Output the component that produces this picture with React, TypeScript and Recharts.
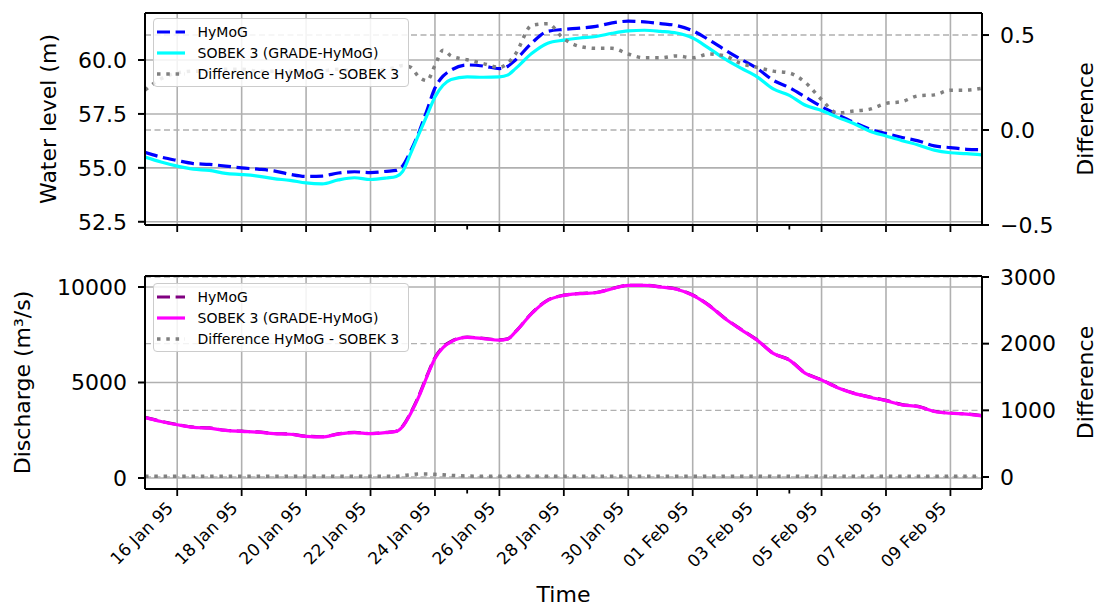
import React from 'react';
import { ComposedChart, Line, XAxis, YAxis, CartesianGrid, Legend, ReferenceLine } from 'recharts';

const FONT = '"DejaVu Sans", Verdana, sans-serif';

// days since 15 Jan 1995 00:00
const days = [
  0, 0.5, 1, 1.5, 2, 2.5, 3, 3.5, 4, 4.5,
  5, 5.5, 6, 6.5, 7, 7.5, 7.8, 8, 8.25, 8.5,
  8.75, 9, 9.25, 9.5, 10, 10.5, 11, 11.25, 11.5, 12,
  12.5, 13, 13.5, 14, 14.5, 15, 15.5, 16, 16.5, 17,
  17.5, 18, 18.5, 19, 19.5, 20, 20.5, 21, 21.5, 22,
  22.5, 23, 23.5, 24, 24.5, 25, 25.5, 25.98,
];

const hymogLevel = [
  55.72, 55.5, 55.34, 55.2, 55.16, 55.08, 55.0, 54.94, 54.86, 54.7,
  54.6, 54.62, 54.76, 54.82, 54.78, 54.84, 54.88, 55.1, 55.8, 56.64,
  57.66, 58.7, 59.25, 59.53, 59.77, 59.72, 59.6, 59.7, 60.0, 60.78,
  61.33, 61.42, 61.48, 61.56, 61.72, 61.8, 61.77, 61.69, 61.6, 61.36,
  60.94, 60.47, 60.03, 59.61, 59.06, 58.72, 58.28, 57.84, 57.47, 57.11,
  56.8, 56.59, 56.41, 56.25, 56.02, 55.94, 55.86, 55.84,
];

const sobekLevel = [
  55.5, 55.27, 55.08, 54.94, 54.88, 54.74, 54.69, 54.62, 54.5, 54.42,
  54.3, 54.26, 54.44, 54.54, 54.46, 54.53, 54.6, 54.84, 55.68, 56.56,
  57.42, 58.28, 58.83, 59.1, 59.22, 59.2, 59.22, 59.3, 59.6, 60.3,
  60.78, 60.92, 61.02, 61.09, 61.24, 61.35, 61.38, 61.33, 61.25, 61.02,
  60.55, 60.05, 59.62, 59.22, 58.66, 58.36, 57.9, 57.66, 57.34, 57.06,
  56.7, 56.48, 56.26, 56.06, 55.82, 55.7, 55.66, 55.6,
];

const levelDiff = [
  0.21, 0.27, 0.3, 0.31, 0.31, 0.32, 0.32, 0.31, 0.31, 0.31,
  0.3, 0.31, 0.32, 0.31, 0.31, 0.32, 0.33, 0.34, 0.33, 0.28,
  0.26, 0.34, 0.42, 0.39, 0.37, 0.35, 0.33, 0.35, 0.4, 0.55,
  0.56, 0.48, 0.44, 0.43, 0.43, 0.4, 0.38, 0.38, 0.39, 0.38,
  0.4, 0.39, 0.35, 0.33, 0.31, 0.3, 0.25, 0.16, 0.09, 0.1,
  0.11, 0.14, 0.15, 0.18, 0.185, 0.21, 0.21, 0.22,
];

const hymogQ = [
  3175, 2970, 2800, 2660, 2620, 2500, 2450, 2410, 2330, 2300,
  2190, 2160, 2310, 2390, 2330, 2390, 2450, 2720, 3425, 4305,
  5345, 6300, 6865, 7155, 7375, 7312, 7232, 7282, 7662, 8622,
  9312, 9572, 9662, 9712, 9922, 10092, 10092, 10012, 9892, 9582,
  9052, 8362, 7782, 7232, 6532, 6182, 5492, 5142, 4742, 4442,
  4242, 4062, 3842, 3752, 3492, 3402, 3352, 3262,
];

const sobekQ = [
  3165, 2960, 2790, 2650, 2610, 2490, 2440, 2400, 2320, 2290,
  2180, 2150, 2300, 2380, 2320, 2380, 2440, 2700, 3390, 4260,
  5300, 6260, 6830, 7130, 7360, 7300, 7220, 7270, 7650, 8610,
  9300, 9560, 9650, 9700, 9910, 10080, 10080, 10000, 9880, 9570,
  9040, 8350, 7770, 7220, 6520, 6170, 5480, 5130, 4730, 4430,
  4230, 4050, 3830, 3740, 3480, 3390, 3340, 3250,
];

const qDiff = [
  10, 10, 10, 10, 10, 10, 10, 10, 10, 10,
  10, 10, 10, 10, 10, 10, 10, 20, 35, 45,
  45, 40, 35, 25, 15, 12, 12, 12, 12, 12,
  12, 12, 12, 12, 12, 12, 12, 12, 12, 12,
  12, 12, 12, 12, 12, 12, 12, 12, 12, 12,
  12, 12, 12, 12, 12, 12, 12, 12,
];

const majorTicks = [1, 3, 5, 7, 9, 11, 13, 15, 17, 19, 21, 23, 25];
const minorTicks = [10, 20];
const tickLabels = [
  '16 Jan 95', '18 Jan 95', '20 Jan 95', '22 Jan 95', '24 Jan 95', '26 Jan 95', '28 Jan 95',
  '30 Jan 95', '01 Feb 95', '03 Feb 95', '05 Feb 95', '07 Feb 95', '09 Feb 95',
];
const levelTicks = [52.5, 55, 57.5, 60];
const levelDiffTicks = [-0.5, 0, 0.5];
const qTicks = [0, 5000, 10000];
const qDiffTicks = [0, 1000, 2000, 3000];
const legendNames = ['HyMoG', 'SOBEK 3 (GRADE-HyMoG)', 'Difference HyMoG - SOBEK 3'];

const X_DOMAIN: [number, number] = [0, 25.98];
const LEVEL_DOMAIN: [number, number] = [52.35, 62.18];
const LEVEL_DIFF_DOMAIN: [number, number] = [-0.5, 0.616];
const Q_DOMAIN: [number, number] = [-576, 10576];
const Q_DIFF_DOMAIN: [number, number] = [-180, 3015];

const levelData = days.map((day, i) => ({ day, hymog: hymogLevel[i], sobek: sobekLevel[i], diff: levelDiff[i] }));
const dischargeData = days.map((day, i) => ({ day, hymog: hymogQ[i], sobek: sobekQ[i], diff: qDiff[i] }));
const allTicks = [...majorTicks, ...minorTicks].sort((a, b) => a - b);

const GRID = '#b0b0b0';
const DOTS = '3.5 5.8';
const DASH = '13 5.6';

const axisLine = { stroke: '#000', strokeWidth: 2 };
const tickFont = { fontSize: 22, fill: '#000', fontFamily: FONT };
const fmtMinus = (v: number, d: number) => (v < 0 ? '\u2212' : '') + Math.abs(v).toFixed(d);

const TimeTick = (props: any) => {
  const { x, y, payload, showLabel } = props;
  const idx = majorTicks.indexOf(payload.value);
  const major = idx >= 0;
  return (
    <g>
      <line x1={x} x2={x} y1={y} y2={y + (major ? 7 : 4.5)} stroke="#000" strokeWidth={1.8} />
      {showLabel && major && (
        <text
          transform={`translate(${x - 3},${y + 20}) rotate(-45)`}
          textAnchor="end"
          fontSize={17}
          fontFamily={FONT}
          fill="#000"
        >
          {tickLabels[idx]}
        </text>
      )}
    </g>
  );
};

type Item = { name: string; color: string; dash?: string; width: number };

const LegendBox = ({ items }: { items: Item[] }) => (
  <div
    style={{
      background: 'rgba(255,255,255,0.85)',
      border: '1.5px solid #cccccc',
      borderRadius: 4,
      padding: '2px 4px 2px 2.5px',
      fontFamily: FONT,
      fontSize: 14,
      color: '#000',
      width: 256,
      boxSizing: 'border-box',
    }}
  >
    {items.map((it) => (
      <div key={it.name} style={{ display: 'flex', alignItems: 'center', height: 21 }}>
        <svg width={28} height={8} style={{ flex: 'none' }}>
          <line x1={0} x2={28} y1={4} y2={4} stroke={it.color} strokeWidth={it.width} strokeDasharray={it.dash} />
        </svg>
        <span style={{ marginLeft: 13, whiteSpace: 'nowrap' }}>{it.name}</span>
      </div>
    ))}
  </div>
);

const levelItems: Item[] = [
  { name: legendNames[0], color: '#0000ff', dash: DASH, width: 3.2 },
  { name: legendNames[1], color: '#00ffff', width: 3.2 },
  { name: legendNames[2], color: '#808080', dash: DOTS, width: 3.5 },
];
const qItems: Item[] = [
  { name: legendNames[0], color: '#800080', dash: DASH, width: 3.2 },
  { name: legendNames[1], color: '#ff00ff', width: 3.2 },
  { name: legendNames[2], color: '#808080', dash: DOTS, width: 3.5 },
];

const Panel = (p: {
  data: any[];
  height: number;
  top: number;
  axisHeight: number;
  showTime: boolean;
  leftDomain: [number, number];
  rightDomain: [number, number];
  leftTicks: number[];
  rightTicks: number[];
  leftFmt: (v: number) => string;
  rightFmt: (v: number) => string;
  leftLabel: string;
  leftLabelOffset: number;
  colors: [string, string];
  items: Item[];
  legendTop: number;
}) => (
  <ComposedChart
    width={1108}
    height={p.height}
    data={p.data}
    margin={{ top: p.top, right: 0, bottom: 0, left: 0 }}
    style={{ fontFamily: FONT }}
  >
    <XAxis
      dataKey="day"
      type="number"
      domain={X_DOMAIN}
      allowDataOverflow
      ticks={allTicks}
      interval={0}
      height={p.axisHeight}
      axisLine={axisLine}
      tickLine={false}
      tickSize={0}
      tickMargin={0}
      tick={(tp: any) => <TimeTick {...tp} showLabel={p.showTime} />}
      label={p.showTime ? { value: 'Time', position: 'insideBottom', offset: 8, style: { fontSize: 22, fill: '#000', fontFamily: FONT } } : undefined}
    />
    <XAxis xAxisId="grid" dataKey="day" type="number" domain={X_DOMAIN} allowDataOverflow ticks={majorTicks} hide />
    <YAxis
      yAxisId="left"
      type="number"
      domain={p.leftDomain}
      allowDataOverflow
      ticks={p.leftTicks}
      interval={0}
      width={145}
      axisLine={axisLine}
      tickLine={axisLine}
      tickSize={7}
      tickMargin={11}
      tick={tickFont}
      tickFormatter={p.leftFmt}
      label={{ value: p.leftLabel, angle: -90, position: 'insideLeft', offset: p.leftLabelOffset, style: { textAnchor: 'middle', fontSize: 22, fill: '#000', fontFamily: FONT } }}
    />
    <YAxis
      yAxisId="right"
      orientation="right"
      type="number"
      domain={p.rightDomain}
      allowDataOverflow
      ticks={p.rightTicks}
      interval={0}
      width={126}
      axisLine={axisLine}
      tickLine={axisLine}
      tickSize={7}
      tickMargin={11}
      tick={tickFont}
      tickFormatter={p.rightFmt}
      label={{ value: 'Difference', angle: -90, position: 'insideRight', offset: 23, style: { textAnchor: 'middle', fontSize: 22, fill: '#000', fontFamily: FONT } }}
    />
    <CartesianGrid xAxisId="grid" yAxisId="left" stroke={GRID} strokeWidth={1.6} />
    <Line yAxisId="left" type="monotone" dataKey="hymog" stroke={p.colors[0]} strokeWidth={3.2} strokeDasharray={DASH} dot={false} activeDot={false} isAnimationActive={false} />
    <Line yAxisId="left" type="monotone" dataKey="sobek" stroke={p.colors[1]} strokeWidth={3.2} dot={false} activeDot={false} isAnimationActive={false} />
    <CartesianGrid xAxisId="grid" yAxisId="right" vertical={false} stroke={GRID} strokeWidth={1.4} strokeDasharray="6 3.5" />
    <Line yAxisId="right" type="monotone" dataKey="diff" stroke="#808080" strokeWidth={3.5} strokeDasharray={DOTS} dot={false} activeDot={false} isAnimationActive={false} />
    <ReferenceLine yAxisId="left" y={p.leftDomain[1]} stroke="#000" strokeWidth={2} />
    <Legend
      layout="vertical"
      align="center"
      verticalAlign="middle"
      wrapperStyle={{ left: 153, top: p.legendTop, width: 256 }}
      content={() => <LegendBox items={p.items} />}
    />
  </ComposedChart>
);

export default function App() {
  return (
    <div style={{ position: 'absolute', left: 0, top: 0, width: 1108, height: 610, background: '#fff', fontFamily: FONT }}>
      <div style={{ position: 'absolute', left: 0, top: 0 }}>
        <Panel
          data={levelData}
          height={250}
          top={13}
          axisHeight={25}
          showTime={false}
          leftDomain={LEVEL_DOMAIN}
          rightDomain={LEVEL_DIFF_DOMAIN}
          leftTicks={levelTicks}
          rightTicks={levelDiffTicks}
          leftFmt={(v) => v.toFixed(1)}
          rightFmt={(v) => fmtMinus(v, 1)}
          leftLabel="Water level (m)"
          leftLabelOffset={48}
          colors={['#0000ff', '#00ffff']}
          items={levelItems}
          legendTop={18}
        />
      </div>
      <div style={{ position: 'absolute', left: 0, top: 250 }}>
        <Panel
          data={dischargeData}
          height={360}
          top={26}
          axisHeight={121}
          showTime={true}
          leftDomain={Q_DOMAIN}
          rightDomain={Q_DIFF_DOMAIN}
          leftTicks={qTicks}
          rightTicks={qDiffTicks}
          leftFmt={(v) => String(v)}
          rightFmt={(v) => String(v)}
          leftLabel="Discharge (m³/s)"
          leftLabelOffset={22}
          colors={['#800080', '#ff00ff']}
          items={qItems}
          legendTop={33}
        />
      </div>
    </div>
  );
}
